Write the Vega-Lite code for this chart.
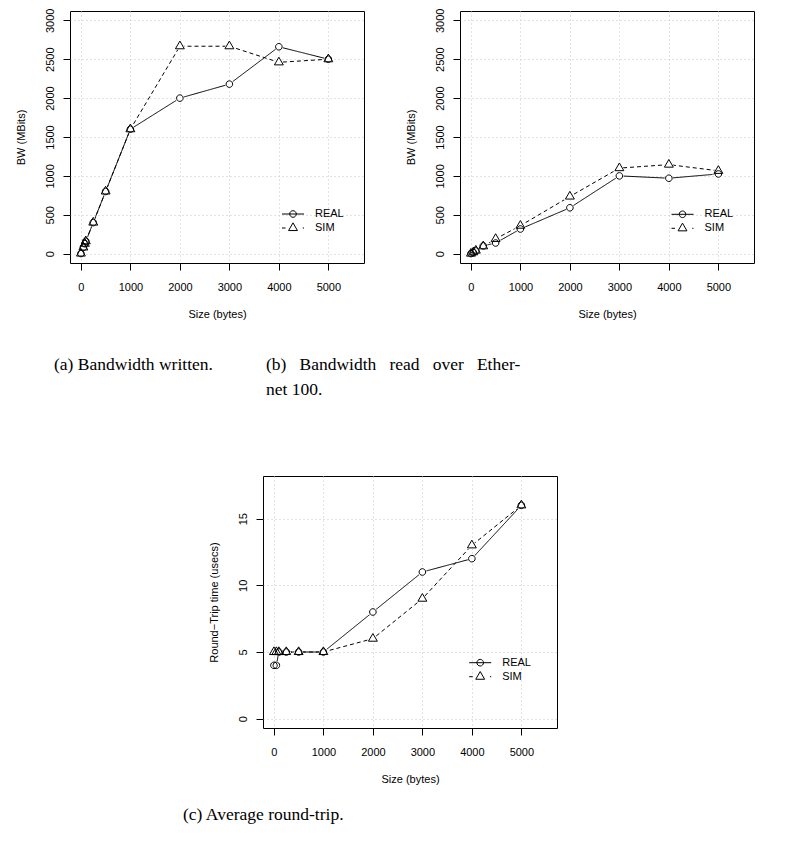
{
  "$schema": "https://vega.github.io/schema/vega-lite/v6.json",
  "background": "white",
  "padding": {"left": 14, "top": 7, "right": 10, "bottom": 10},
  "datasets": {
    "written": [
      {"size": 1, "bw": 2, "series": "REAL"},
      {"size": 50, "bw": 80, "series": "REAL"},
      {"size": 80, "bw": 128, "series": "REAL"},
      {"size": 100, "bw": 160, "series": "REAL"},
      {"size": 250, "bw": 400, "series": "REAL"},
      {"size": 500, "bw": 800, "series": "REAL"},
      {"size": 1000, "bw": 1600, "series": "REAL"},
      {"size": 2000, "bw": 2000, "series": "REAL"},
      {"size": 3000, "bw": 2180, "series": "REAL"},
      {"size": 4000, "bw": 2660, "series": "REAL"},
      {"size": 5000, "bw": 2500, "series": "REAL"},
      {"size": 1, "bw": 2, "series": "SIM"},
      {"size": 50, "bw": 80, "series": "SIM"},
      {"size": 80, "bw": 128, "series": "SIM"},
      {"size": 100, "bw": 160, "series": "SIM"},
      {"size": 250, "bw": 400, "series": "SIM"},
      {"size": 500, "bw": 800, "series": "SIM"},
      {"size": 1000, "bw": 1600, "series": "SIM"},
      {"size": 2000, "bw": 2667, "series": "SIM"},
      {"size": 3000, "bw": 2667, "series": "SIM"},
      {"size": 4000, "bw": 2460, "series": "SIM"},
      {"size": 5000, "bw": 2500, "series": "SIM"}
    ],
    "read": [
      {"size": 1, "bw": 1, "series": "REAL"},
      {"size": 50, "bw": 15, "series": "REAL"},
      {"size": 100, "bw": 35, "series": "REAL"},
      {"size": 250, "bw": 100, "series": "REAL"},
      {"size": 500, "bw": 137, "series": "REAL"},
      {"size": 1000, "bw": 317, "series": "REAL"},
      {"size": 2000, "bw": 590, "series": "REAL"},
      {"size": 3000, "bw": 1000, "series": "REAL"},
      {"size": 4000, "bw": 970, "series": "REAL"},
      {"size": 5000, "bw": 1025, "series": "REAL"},
      {"size": 1, "bw": 1, "series": "SIM"},
      {"size": 50, "bw": 18, "series": "SIM"},
      {"size": 100, "bw": 40, "series": "SIM"},
      {"size": 250, "bw": 95, "series": "SIM"},
      {"size": 500, "bw": 190, "series": "SIM"},
      {"size": 1000, "bw": 360, "series": "SIM"},
      {"size": 2000, "bw": 735, "series": "SIM"},
      {"size": 3000, "bw": 1100, "series": "SIM"},
      {"size": 4000, "bw": 1145, "series": "SIM"},
      {"size": 5000, "bw": 1065, "series": "SIM"}
    ],
    "rtt": [
      {"size": 1, "usecs": 4, "series": "REAL"},
      {"size": 50, "usecs": 4, "series": "REAL"},
      {"size": 100, "usecs": 5, "series": "REAL"},
      {"size": 250, "usecs": 5, "series": "REAL"},
      {"size": 500, "usecs": 5, "series": "REAL"},
      {"size": 1000, "usecs": 5, "series": "REAL"},
      {"size": 2000, "usecs": 8, "series": "REAL"},
      {"size": 3000, "usecs": 11, "series": "REAL"},
      {"size": 4000, "usecs": 12, "series": "REAL"},
      {"size": 5000, "usecs": 16, "series": "REAL"},
      {"size": 1, "usecs": 5, "series": "SIM"},
      {"size": 50, "usecs": 5, "series": "SIM"},
      {"size": 100, "usecs": 5, "series": "SIM"},
      {"size": 250, "usecs": 5, "series": "SIM"},
      {"size": 500, "usecs": 5, "series": "SIM"},
      {"size": 1000, "usecs": 5, "series": "SIM"},
      {"size": 2000, "usecs": 6, "series": "SIM"},
      {"size": 3000, "usecs": 9, "series": "SIM"},
      {"size": 4000, "usecs": 13, "series": "SIM"},
      {"size": 5000, "usecs": 16, "series": "SIM"}
    ],
    "blank": [{}]
  },
  "config": {
    "view": {"stroke": "black", "strokeWidth": 1},
    "axis": {
      "domain": false,
      "ticks": true,
      "tickColor": "black",
      "tickSize": 7,
      "tickWidth": 1,
      "format": "d",
      "labelFont": "Liberation Sans",
      "labelFontSize": 11,
      "labelColor": "black",
      "labelFlush": false,
      "labelOverlap": false,
      "labelBound": false,
      "titleFont": "Liberation Sans",
      "titleFontSize": 11,
      "titleFontWeight": "normal",
      "titleColor": "black",
      "grid": true,
      "gridColor": "#c4c4c4",
      "gridDash": [1, 3],
      "gridWidth": 1
    },
    "axisX": {"labelPadding": 11, "titlePadding": 16},
    "axisY": {"labelAngle": -90, "labelAlign": "center", "labelBaseline": "bottom", "labelPadding": 8, "titlePadding": 18},
    "title": {
      "font": "Liberation Serif",
      "fontSize": 17.5,
      "fontWeight": "normal",
      "color": "black",
      "orient": "bottom",
      "anchor": "start",
      "frame": "group",
      "lineHeight": 25
    },
    "legend": {
      "orient": "none",
      "padding": 0,
      "symbolSize": 100,
      "symbolStrokeWidth": 1,
      "symbolStrokeColor": "black",
      "symbolFillColor": "transparent",
      "symbolOpacity": 1,
      "labelOffset": 16.5,
      "rowPadding": 1,
      "labelFont": "Liberation Sans",
      "labelFontSize": 11,
      "labelColor": "black"
    }
  },
  "resolve": {"scale": {"shape": "independent", "strokeDash": "independent"}, "legend": {"shape": "independent"}},
  "spacing": 74,
  "vconcat": [
    {
      "bounds": "flush",
      "spacing": 96,
      "resolve": {"scale": {"shape": "independent", "strokeDash": "independent"}, "legend": {"shape": "independent"}},
      "hconcat": [
        {
          "width": 294,
          "height": 252,
          "data": {"name": "written"},
          "title": {"text": "(a) Bandwidth written.", "dx": -16, "offset": 36.5},
          "encoding": {
            "x": {"field": "size", "type": "quantitative", "scale": {"domain": [-220, 5720], "nice": false, "zero": false}, "axis": {"values": [0, 1000, 2000, 3000, 4000, 5000], "title": "Size (bytes)"}},
            "y": {"field": "bw", "type": "quantitative", "scale": {"domain": [-120, 3120], "nice": false, "zero": false}, "axis": {"values": [0, 500, 1000, 1500, 2000, 2500, 3000], "title": "BW (MBits)"}}
          },
          "layer": [
            {
              "mark": {"type": "line", "color": "black", "strokeWidth": 1},
              "encoding": {"strokeDash": {"field": "series", "type": "nominal", "scale": {"domain": ["SIM", "REAL"], "range": [[4, 3], [1, 0]]}, "legend": null}}
            },
            {
              "mark": {"type": "point", "filled": true, "fill": "white", "stroke": "white", "strokeWidth": 2, "opacity": 1, "size": 100},
              "encoding": {"shape": {"condition": {"test": "datum.series === 'REAL'", "value": "M0.66,0A0.66,0.66,0,1,1,-0.66,0A0.66,0.66,0,1,1,0.66,0Z"}, "value": "M0,-1.03L0.89,0.51L-0.89,0.51Z"}}
            },
            {
              "mark": {"type": "point", "filled": false, "stroke": "black", "strokeWidth": 1, "opacity": 1, "size": 100},
              "encoding": {"shape": {"condition": {"test": "datum.series === 'REAL'", "value": "M0.66,0A0.66,0.66,0,1,1,-0.66,0A0.66,0.66,0,1,1,0.66,0Z"}, "value": "M0,-1.03L0.89,0.51L-0.89,0.51Z"}}
            },
            {
              "mark": {"type": "point", "filled": false, "stroke": "black", "strokeWidth": 1, "opacity": 0, "size": 100},
              "encoding": {"shape": {"field": "series", "type": "nominal", "scale": {"domain": ["REAL", "SIM"], "range": ["M-2.2,0H2.2M0.66,0A0.66,0.66,0,1,1,-0.66,0A0.66,0.66,0,1,1,0.66,0Z", "M-2.2,0H-1.5M1.95,0H2.2M0,-1.03L0.89,0.51L-0.89,0.51Z"]},
                "legend": {"title": null, "legendX": 217.5, "legendY": 197.5, "symbolOpacity": 1, "symbolStrokeColor": "black",
                  "encode": {"symbols": {"opacity": {"value": 1}, "fill": {"value": "transparent"}, "stroke": {"value": "black"}}}}}}
            }
          ]
        },
        {
          "width": 294,
          "height": 252,
          "data": {"name": "read"},
          "title": {"text": ["(b)\u00a0\u00a0\u00a0Bandwidth\u00a0\u00a0\u00a0read\u00a0\u00a0\u00a0over\u00a0\u00a0\u00a0Ether-", "net 100."], "dx": -194, "offset": 36.5},
          "encoding": {
            "x": {"field": "size", "type": "quantitative", "scale": {"domain": [-220, 5720], "nice": false, "zero": false}, "axis": {"values": [0, 1000, 2000, 3000, 4000, 5000], "title": "Size (bytes)"}},
            "y": {"field": "bw", "type": "quantitative", "scale": {"domain": [-120, 3120], "nice": false, "zero": false}, "axis": {"values": [0, 500, 1000, 1500, 2000, 2500, 3000], "title": "BW (MBits)"}}
          },
          "layer": [
            {
              "mark": {"type": "line", "color": "black", "strokeWidth": 1},
              "encoding": {"strokeDash": {"field": "series", "type": "nominal", "scale": {"domain": ["SIM", "REAL"], "range": [[4, 3], [1, 0]]}, "legend": null}}
            },
            {
              "mark": {"type": "point", "filled": true, "fill": "white", "stroke": "white", "strokeWidth": 2, "opacity": 1, "size": 100},
              "encoding": {"shape": {"condition": {"test": "datum.series === 'REAL'", "value": "M0.66,0A0.66,0.66,0,1,1,-0.66,0A0.66,0.66,0,1,1,0.66,0Z"}, "value": "M0,-1.03L0.89,0.51L-0.89,0.51Z"}}
            },
            {
              "mark": {"type": "point", "filled": false, "stroke": "black", "strokeWidth": 1, "opacity": 1, "size": 100},
              "encoding": {"shape": {"condition": {"test": "datum.series === 'REAL'", "value": "M0.66,0A0.66,0.66,0,1,1,-0.66,0A0.66,0.66,0,1,1,0.66,0Z"}, "value": "M0,-1.03L0.89,0.51L-0.89,0.51Z"}}
            },
            {
              "mark": {"type": "point", "filled": false, "stroke": "black", "strokeWidth": 1, "opacity": 0, "size": 100},
              "encoding": {"shape": {"field": "series", "type": "nominal", "scale": {"domain": ["REAL", "SIM"], "range": ["M-2.2,0H2.2M0.66,0A0.66,0.66,0,1,1,-0.66,0A0.66,0.66,0,1,1,0.66,0Z", "M-2.2,0H-1.5M1.95,0H2.2M0,-1.03L0.89,0.51L-0.89,0.51Z"]},
                "legend": {"title": null, "legendX": 217, "legendY": 197.8, "symbolOpacity": 1, "symbolStrokeColor": "black",
                  "encode": {"symbols": {"opacity": {"value": 1}, "fill": {"value": "transparent"}, "stroke": {"value": "black"}}}}}}
            }
          ]
        }
      ]
    },
    {
      "spacing": 10,
      "resolve": {"scale": {"shape": "independent", "strokeDash": "independent"}, "legend": {"shape": "independent"}},
      "hconcat": [
        {
          "width": 102,
          "height": 1,
          "view": {"stroke": null},
          "data": {"name": "blank"},
          "mark": {"type": "point", "opacity": 0}
        },
        {
          "width": 294,
          "height": 252,
          "data": {"name": "rtt"},
          "title": {"text": "(c) Average round-trip.", "dx": -80, "offset": 22},
          "encoding": {
            "x": {"field": "size", "type": "quantitative", "scale": {"domain": [-220, 5720], "nice": false, "zero": false}, "axis": {"values": [0, 1000, 2000, 3000, 4000, 5000], "title": "Size (bytes)"}},
            "y": {"field": "usecs", "type": "quantitative", "scale": {"domain": [-0.7, 18.2], "nice": false, "zero": false}, "axis": {"values": [0, 5, 10, 15], "title": "Round\u2212Trip time (usecs)"}}
          },
          "layer": [
            {
              "mark": {"type": "line", "color": "black", "strokeWidth": 1},
              "encoding": {"strokeDash": {"field": "series", "type": "nominal", "scale": {"domain": ["SIM", "REAL"], "range": [[4, 3], [1, 0]]}, "legend": null}}
            },
            {
              "mark": {"type": "point", "filled": true, "fill": "white", "stroke": "white", "strokeWidth": 2, "opacity": 1, "size": 100},
              "encoding": {"shape": {"condition": {"test": "datum.series === 'REAL'", "value": "M0.66,0A0.66,0.66,0,1,1,-0.66,0A0.66,0.66,0,1,1,0.66,0Z"}, "value": "M0,-1.03L0.89,0.51L-0.89,0.51Z"}}
            },
            {
              "mark": {"type": "point", "filled": false, "stroke": "black", "strokeWidth": 1, "opacity": 1, "size": 100},
              "encoding": {"shape": {"condition": {"test": "datum.series === 'REAL'", "value": "M0.66,0A0.66,0.66,0,1,1,-0.66,0A0.66,0.66,0,1,1,0.66,0Z"}, "value": "M0,-1.03L0.89,0.51L-0.89,0.51Z"}}
            },
            {
              "mark": {"type": "point", "filled": false, "stroke": "black", "strokeWidth": 1, "opacity": 0, "size": 100},
              "encoding": {"shape": {"field": "series", "type": "nominal", "scale": {"domain": ["REAL", "SIM"], "range": ["M-2.2,0H2.2M0.66,0A0.66,0.66,0,1,1,-0.66,0A0.66,0.66,0,1,1,0.66,0Z", "M-2.2,0H-1.5M1.95,0H2.2M0,-1.03L0.89,0.51L-0.89,0.51Z"]},
                "legend": {"title": null, "legendX": 211.7, "legendY": 181.2, "symbolOpacity": 1, "symbolStrokeColor": "black",
                  "encode": {"symbols": {"opacity": {"value": 1}, "fill": {"value": "transparent"}, "stroke": {"value": "black"}}}}}}
            }
          ]
        }
      ]
    }
  ]
}
